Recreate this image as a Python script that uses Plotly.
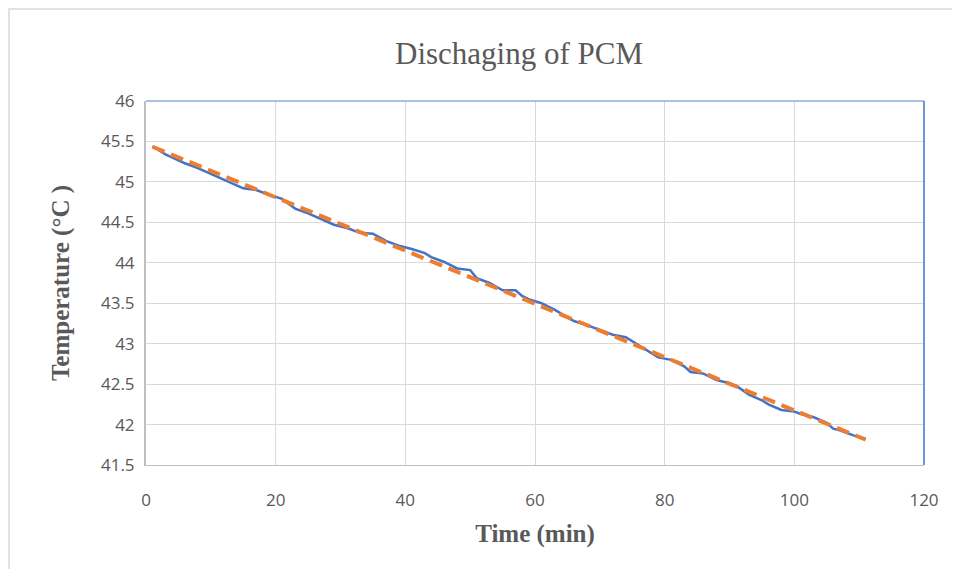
import numpy as np
import plotly.graph_objects as go

# Data
time_min = [1, 3, 6, 8, 10, 12, 13, 15, 17, 19, 21, 23, 25, 27, 29, 31, 33, 35, 37, 39,
            41, 43, 44, 46, 47, 48, 50, 51, 53, 55, 57, 58, 59, 61, 63, 65, 66, 68, 70,
            72, 74, 76, 77, 79, 81, 83, 84, 86, 88, 90, 91, 93, 95, 96, 98, 100, 101,
            103, 105, 106, 107, 109, 111]
temp_c = [45.44, 45.34, 45.23, 45.17, 45.10, 45.03, 45.00, 44.92, 44.90, 44.84, 44.79,
          44.67, 44.61, 44.54, 44.47, 44.43, 44.37, 44.36, 44.27, 44.21, 44.17, 44.12,
          44.07, 44.01, 43.97, 43.93, 43.91, 43.81, 43.75, 43.66, 43.66, 43.59, 43.55,
          43.50, 43.42, 43.33, 43.28, 43.23, 43.17, 43.11, 43.08, 42.98, 42.92, 42.83,
          42.80, 42.72, 42.65, 42.63, 42.55, 42.51, 42.48, 42.37, 42.30, 42.25, 42.18,
          42.16, 42.13, 42.09, 42.02, 41.95, 41.93, 41.87, 41.82]

title_text = "Dischaging of PCM"
x_title = "Time (min)"
y_title = "Temperature (°C )"

# Linear trendline (as Excel's linear trend)
coef = np.polyfit(time_min, temp_c, 1)
trend_x = [time_min[0], time_min[-1]]
trend_y = list(np.polyval(coef, trend_x))

fig = go.Figure()
fig.add_trace(go.Scatter(x=time_min, y=temp_c, mode="lines",
                         line=dict(color="#4472c4", width=2.5), showlegend=False))
fig.add_trace(go.Scatter(x=trend_x, y=trend_y, mode="lines",
                         line=dict(color="#ed7d31", width=4, dash="13px,7px"),
                         showlegend=False))

OFF = 8  # page body offset
W, H = 944, 561
L, T = 146 - OFF, 101 - OFF
R = OFF + W - 924
B = OFF + H - 465
pw, ph = W - L - R, H - T - B

def px(xs):  # screen x -> paper
    return (xs - OFF - L) / pw

def py(ys):  # screen y -> paper
    return (OFF + H - B - ys) / ph

fig.update_layout(
    width=W, height=H,
    margin=dict(l=L, r=R, t=T, b=B),
    paper_bgcolor="white", plot_bgcolor="white",
    title=dict(text=title_text, x=(519 - OFF) / W, xanchor="center",
               y=1 - (53 - OFF) / H, yanchor="middle",
               font=dict(family="Liberation Serif", size=31, color="#595959")),
    xaxis=dict(range=[0, 120], dtick=20, tick0=0, showgrid=True, gridcolor="#d9d9d9", gridwidth=1,
               showline=True, linecolor="#bfbfbf", linewidth=1, zeroline=False, ticks="",
               ticklabelstandoff=20,
               tickfont=dict(family="Open Sans", size=17, color="#595959"),
               title=dict(text="<b>" + x_title + "</b>", standoff=14,
                          font=dict(family="Liberation Serif", size=25, color="#595959"))),
    yaxis=dict(range=[41.5, 46], dtick=0.5, tick0=41.5, showgrid=True, gridcolor="#d9d9d9", gridwidth=1,
               showline=True, linecolor="#bfbfbf", linewidth=2, zeroline=False, ticks="",
               ticklabelstandoff=6,
               tickfont=dict(family="Open Sans", size=17, color="#595959"),
               title=dict(text="<b>" + y_title + "</b>", standoff=24,
                          font=dict(family="Liberation Serif", size=25, color="#595959"))),
)

# plot-area top and right borders (blue)
fig.add_shape(type="line", xref="paper", yref="paper", x0=0, x1=1, y0=1, y1=1,
              line=dict(color="#8eaadb", width=1.5))
fig.add_shape(type="line", xref="paper", yref="paper", x0=1, x1=1, y0=0, y1=1,
              line=dict(color="#4472c4", width=1.5))
# chart-area border (light gray), extending beyond the visible frame
fig.add_shape(type="rect", xref="paper", yref="paper",
              x0=px(9), x1=px(990), y0=py(600), y1=py(9),
              line=dict(color="#d9d9d9", width=1.5), layer="below")

fig.write_html("out.html")
